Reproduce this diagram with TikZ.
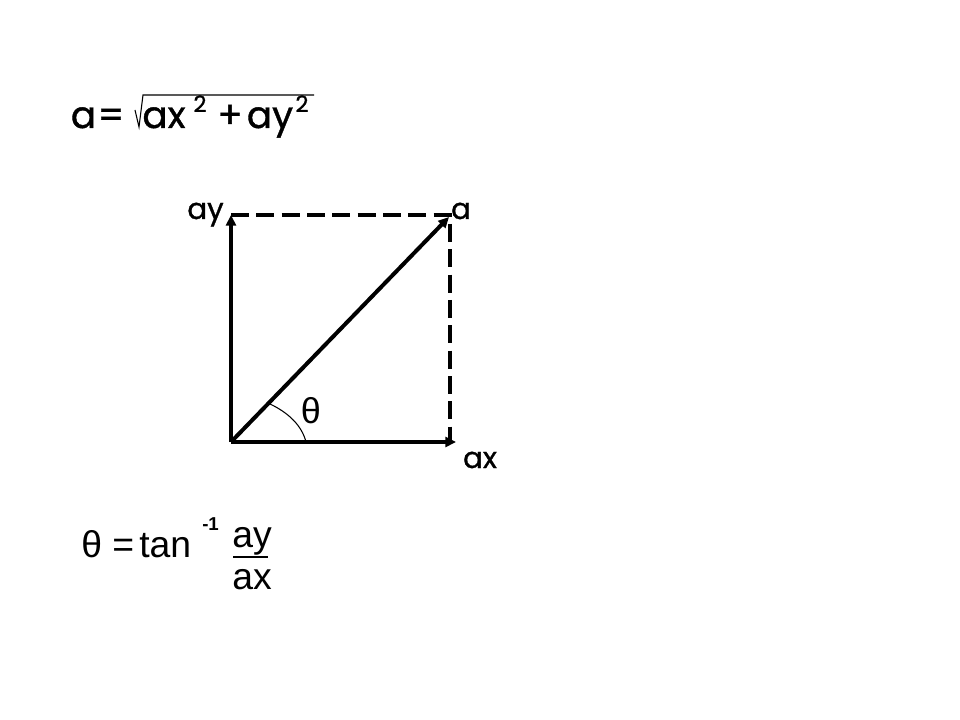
\documentclass[tikz,border=0pt]{standalone}
\usepackage{fontspec}
\setmainfont{Liberation Sans}
\newfontfamily\comic{Poppins}[FakeBold=1]
\usetikzlibrary{arrows.meta}
\begin{document}
\begin{tikzpicture}[x=0.75pt,y=-0.75pt,
  vec/.style={line width=3pt,-{Triangle[length=8pt,width=7.5pt]}},
  dashline/.style={line width=3pt,dash pattern=on 13.5pt off 5.5pt},
  big/.style={font=\comic\fontsize{28}{32}\selectfont,inner sep=0pt,anchor=base},
  sup/.style={font=\comic\fontsize{17}{20}\selectfont,inner sep=0pt,anchor=base},
  lbl/.style={font=\comic\fontsize{22}{26}\selectfont,inner sep=0pt,anchor=base},
  thl/.style={font=\fontsize{27}{30}\selectfont,inner sep=0pt,anchor=base},
  ar/.style={font=\fontsize{28}{32}\selectfont,inner sep=0pt,anchor=base west},
  arsup/.style={font=\bfseries\fontsize{14}{16}\selectfont,inner sep=0pt,anchor=base west}]
\useasboundingbox (0,0) rectangle (960,720);
% top formula
\node[big] (ta) at (83.5,128) {a};
\node[big] (teq) at (111,128) {=};
\node[big] (tax) at (164,128) {ax};
\node[sup] (t2a) at (200,112) {2};
\node[big] (tplus) at (230,128) {+};
\node[big] (tay) at (270,128) {ay};
\node[sup] (t2b) at (302,112) {2};
\coordinate (s1) at (135,110);
\coordinate (s2) at (139,127);
\coordinate (s3) at (143,95);
\coordinate (s4) at (314,95);
\draw[line width=0.8pt] (s1) -- (s2) -- (s3) -- (s4);
% vectors
\coordinate (O) at (231,442);
\coordinate (Y) at (231,215);
\coordinate (X) at (456,442);
\coordinate (A) at (449,217);
\coordinate (C) at (450,215);
\coordinate (D) at (450,442);
\draw[dashline] (Y) -- (C) -- (D);
\draw[vec] (O) -- (Y);
\draw[vec] (O) -- (X);
\draw[vec] (O) -- (A);
\coordinate (p1) at (270,404);
\coordinate (p2) at (306,442);
\draw[line width=0.8pt] (p1) .. controls (289,413) and (302,426) .. (p2);
\node[lbl] (lay) at (205.5,219) {ay};
\node[lbl] (la) at (461,219) {a};
\node[lbl] (lax) at (480,468) {ax};
\node[thl] (lth) at (311,423) {θ};
% bottom formula
\node[ar] (bth) at (81,557) {θ};
\node[ar] (beq) at (112,557) {=};
\node[ar] (btan) at (139,557) {tan};
\node[arsup] (bm1) at (202,530) {-1};
\node[ar] (bay) at (232,547) {ay};
\node[ar] (bax) at (232,589) {ax};
\coordinate (u1) at (233,557);
\coordinate (u2) at (268,557);
\draw[line width=1.5pt] (u1) -- (u2);
\end{tikzpicture}
\end{document}
